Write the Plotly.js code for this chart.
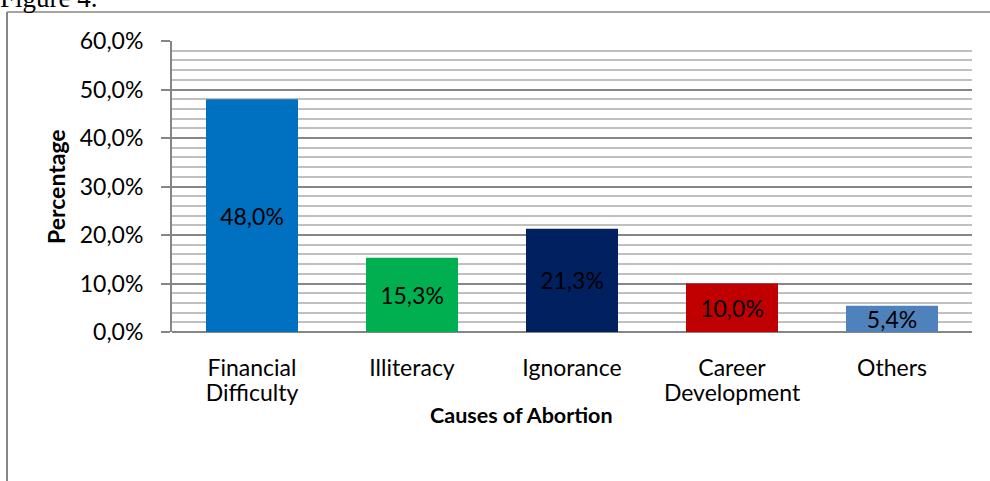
<!DOCTYPE html>
<html>
<head>
<meta charset="utf-8">
<script src="https://cdn.plot.ly/plotly-3.0.1.min.js"></script>
<style>html,body{margin:0;padding:0;background:#fff;}#chart{width:990px;height:481px;}</style>
</head>
<body>
<div id="chart"></div>
<script>
const categories = ["Financial<br>Difficulty", "Illiteracy", "Ignorance", "Career<br>Development", "Others"];
const values = [48.0, 15.3, 21.3, 10.0, 5.4];
const barColors = ["#0070C0", "#00B050", "#002060", "#C00000", "#4F81BD"];
const yTickValues = [0, 10, 20, 30, 40, 50, 60];
const yTickLabels = ["0,0%", "10,0%", "20,0%", "30,0%", "40,0%", "50,0%", "60,0%"];

const FONT = "Lato, 'Open Sans', sans-serif";
const W = 990, H = 481;
const m = {l: 172, r: 18, t: 41, b: 149};
const pw = W - m.l - m.r, ph = H - m.t - m.b;
const px = x => (x - m.l) / pw;
const py = y => (H - m.b - y) / ph;

const trace = {
  type: "bar",
  x: categories,
  y: values,
  marker: {color: barColors, line: {width: 0}},
  width: 0.575,
  texttemplate: "%{y:.1f}%",
  textposition: "inside",
  insidetextanchor: "middle",
  constraintext: "none",
  textfont: {family: FONT, size: 23, color: "#000000"},
  hoverinfo: "none"
};

const layout = {
  width: W, height: H,
  margin: m,
  paper_bgcolor: "#ffffff",
  plot_bgcolor: "#ffffff",
  separators: ",.",
  showlegend: false,
  font: {family: FONT, size: 23, color: "#000000"},
  xaxis: {
    showgrid: false,
    showline: false,
    ticks: "",
    tickfont: {family: FONT, size: 23, color: "#000000"},
    ticklabelstandoff: 20,
    fixedrange: true
  },
  yaxis: {
    range: [0, 60],
    tickmode: "array",
    tickvals: yTickValues,
    ticktext: yTickLabels,
    ticks: "outside",
    ticklen: 9,
    tickwidth: 2,
    tickcolor: "#868686",
    showline: true,
    linecolor: "#868686",
    linewidth: 2,
    showgrid: true,
    gridcolor: "#868686",
    gridwidth: 2,
    zeroline: true,
    zerolinecolor: "#868686",
    zerolinewidth: 2,
    minor: {dtick: 2, showgrid: true, gridcolor: "#c0c0c0", gridwidth: 2, ticks: ""},
    tickfont: {family: FONT, size: 23, color: "#000000"},
    ticklabelstandoff: 13,
    fixedrange: true
  },
  annotations: [
    {xref: "paper", yref: "paper", x: px(56), y: py(187), text: "<b>Percentage</b>",
     textangle: -90, showarrow: false, xanchor: "center", yanchor: "middle",
     font: {family: FONT, size: 23, color: "#000000"}},
    {xref: "paper", yref: "paper", x: px(521), y: py(415), text: "<b>Causes of Abortion</b>",
     showarrow: false, xanchor: "center", yanchor: "middle",
     font: {family: FONT, size: 21.5, color: "#000000"}},
    {xref: "paper", yref: "paper", x: px(-2), y: py(15), text: "Figure 4.",
     showarrow: false, xanchor: "left", yanchor: "bottom",
     font: {family: "'Liberation Serif', 'DejaVu Serif', serif", size: 27, color: "#000000"}}
  ],
  shapes: [
    {type: "line", xref: "paper", yref: "paper", x0: px(7), x1: px(7), y0: py(12), y1: py(500),
     line: {color: "#868686", width: 2}},
    {type: "line", xref: "paper", yref: "paper", x0: px(7), x1: px(1000), y0: py(12), y1: py(12),
     line: {color: "#868686", width: 1.5}}
  ]
};

Plotly.newPlot("chart", [trace], layout, {displayModeBar: false, staticPlot: true}).then(function (gd) {
  // tighten the line spacing of two-line category labels (Excel-like)
  gd.querySelectorAll(".xtick text tspan.line").forEach(function (t) {
    const dy = t.getAttribute("dy");
    if (dy && parseFloat(dy) > 0) t.setAttribute("dy", "1.1em");
  });
});
</script>
</body>
</html>
